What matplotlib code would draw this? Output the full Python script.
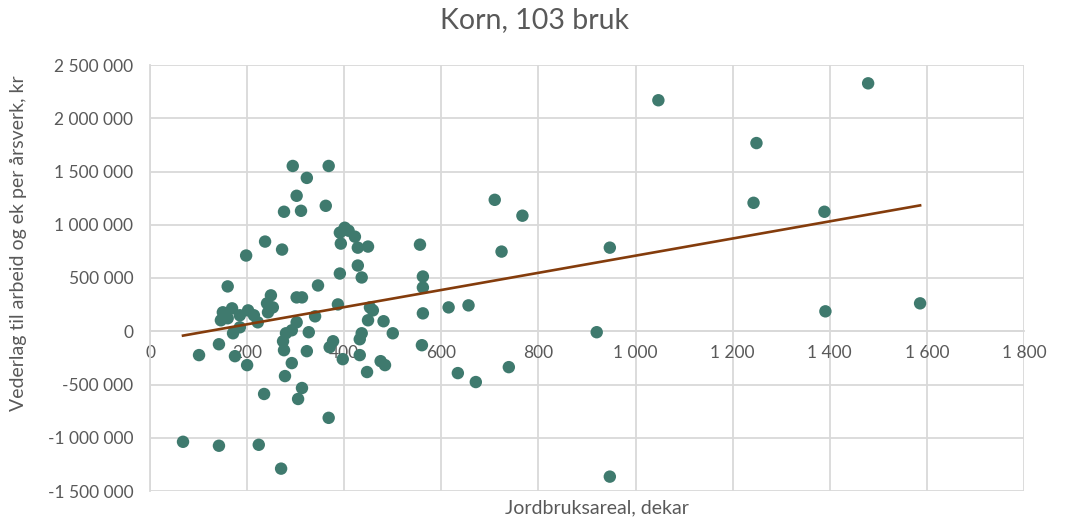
import matplotlib.pyplot as plt
import numpy as np
from matplotlib.ticker import FuncFormatter, MultipleLocator

# Jordbruksareal (dekar) og vederlag til arbeid og ek per årsverk (kr)
areal = [294, 368, 323, 302, 276, 311, 362, 237, 272, 198,
         401, 391, 409, 422, 393, 428, 449, 556, 428, 391,
         436, 160, 346, 562, 562, 302, 313, 249, 241, 253,
         243, 387, 453, 459, 562, 615, 656, 150, 169, 185,
         202, 214, 146, 160, 222, 340, 302, 449, 481, 171,
         292, 280, 274, 327, 436, 432, 500, 142, 101, 175,
         200, 276, 323, 377, 370, 560, 432, 397, 475, 484,
         292, 447, 278, 634, 671, 313, 305, 235, 368, 68,
         142, 224, 270, 185,
         1047, 1479, 1249, 1243, 1389, 1391, 1586, 947, 920, 947,
         710, 767, 724, 739]
vederlag = [1552000, 1552000, 1440000, 1272000, 1122000, 1131000, 1178000, 842000, 767000, 711000,
            972000, 926000, 944000, 888000, 823000, 785000, 795000, 813000, 617000, 542000,
            505000, 421000, 430000, 514000, 411000, 318000, 318000, 337000, 262000, 224000,
            178000, 252000, 224000, 196000, 168000, 224000, 243000, 178000, 215000, 150000,
            196000, 150000, 103000, 122000, 84000, 140000, 84000, 103000, 94000, -19000,
            9000, -19000, -94000, -9000, -19000, -75000, -19000, -122000, -224000, -234000,
            -318000, -178000, -187000, -94000, -150000, -131000, -224000, -262000, -281000, -318000,
            -299000, -383000, -421000, -393000, -477000, -533000, -636000, -589000, -813000, -1038000,
            -1075000, -1066000, -1290000, 37000,
            2169000, 2328000, 1767000, 1206000, 1122000, 187000, 262000, 785000, -9000, -1365000,
            1234000, 1085000, 748000, -337000]

tittel = "Korn, 103 bruk"
x_tekst = "Jordbruksareal, dekar"
y_tekst = "Vederlag til arbeid og ek per årsverk, kr"

grey = "#595959"
plt.rcParams['font.family'] = ['Lato', 'DejaVu Sans']

fig = plt.figure(figsize=(10.74, 5.22), dpi=100)
ax = fig.add_axes([150 / 1074, 1 - 491 / 522, 874 / 1074, 426 / 522])

ax.scatter(areal, vederlag, s=80, color="#3f7a6e", edgecolors="none", zorder=3)

# lineær trendlinje
a, b = np.polyfit(areal, vederlag, 1)
xs = np.array([min(areal), max(areal)])
ax.plot(xs, a * xs + b, color="#843c0c", lw=1.9, zorder=4)

ax.set_xlim(0, 1800)
ax.set_ylim(-1500000, 2500000)
ax.xaxis.set_major_locator(MultipleLocator(200))
ax.yaxis.set_major_locator(MultipleLocator(500000))

fmt = FuncFormatter(lambda v, p: f"{int(round(v)):,}".replace(",", " "))
ax.xaxis.set_major_formatter(fmt)
ax.yaxis.set_major_formatter(fmt)

ax.grid(True, color="#d9d9d9", lw=1.3, zorder=0)
for s in ["top", "right"]:
    ax.spines[s].set_visible(False)
ax.spines["bottom"].set_position(("data", 0))
ax.spines["bottom"].set_color("#d9d9d9")
ax.spines["left"].set_color("#d9d9d9")
ax.spines["bottom"].set_linewidth(1.3)
ax.spines["left"].set_linewidth(1.3)
ax.tick_params(length=0, labelsize=12.5, labelcolor=grey)
ax.tick_params(axis="x", pad=10)
ax.tick_params(axis="y", pad=12)

ax.set_xlabel(x_tekst, fontsize=14, color=grey, va="center")
ax.xaxis.set_label_coords(0.511, -0.04)
ax.set_ylabel(y_tekst, fontsize=14, color=grey, va="center")
ax.yaxis.set_label_coords(-0.151, 0.582)

fig.text(535 / 1074, 1 - 20 / 522, tittel, fontsize=20.5, color=grey, ha="center", va="center")

fig.savefig("out.png", dpi=100)
